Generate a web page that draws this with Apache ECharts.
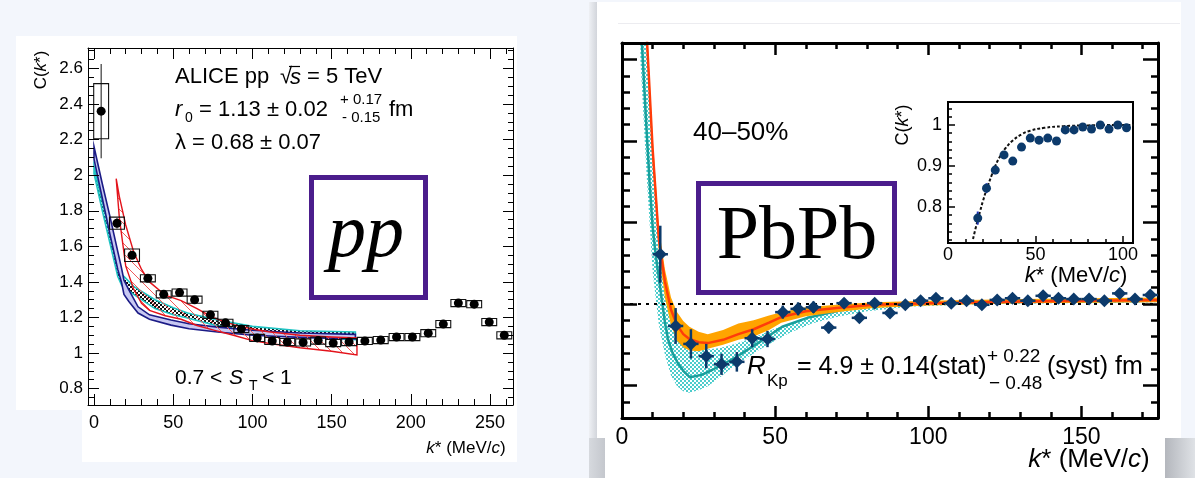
<!DOCTYPE html>
<html><head><meta charset="utf-8">
<script src="https://cdn.jsdelivr.net/npm/echarts@6/dist/echarts.min.js"></script>
<style>html,body{margin:0;padding:0;background:#f3f6fc}#c{width:1195px;height:478px}</style>
</head><body><div id="c"></div>
<script>
// ---------------- pp panel data ----------------
const ppK   = [4.5, 14.5, 24, 34, 44, 54, 63.5, 73.5, 83, 93, 103, 112.5, 122, 132, 141.5, 151, 161, 171, 181, 191, 201, 211, 220.5, 230, 240, 249.5, 259];
const ppC   = [2.36, 1.73, 1.55, 1.42, 1.33, 1.34, 1.30, 1.215, 1.17, 1.135, 1.085, 1.068, 1.062, 1.06, 1.07, 1.056, 1.062, 1.068, 1.073, 1.09, 1.09, 1.112, 1.163, 1.281, 1.275, 1.174, 1.10];
const ppSys = [0.155, 0.034, 0.035, 0.02, 0.02, 0.02, 0.02, 0.02, 0.02, 0.02, 0.02, 0.02, 0.02, 0.02, 0.02, 0.02, 0.02, 0.02, 0.02, 0.02, 0.02, 0.02, 0.02, 0.02, 0.02, 0.02, 0.02];
const ppStat= [0.265, 0.03, 0.02, 0.01, 0.01, 0.01, 0.01, 0.01, 0.01, 0.01, 0.01, 0.01, 0.01, 0.01, 0.01, 0.01, 0.01, 0.01, 0.01, 0.01, 0.01, 0.01, 0.01, 0.01, 0.01, 0.01, 0.01];

const ppNavyK  = [0, 5, 10, 15, 17.3, 18.9, 22, 27.8, 35, 48.6, 60, 78, 100, 130, 165];
const ppNavyHi = [2.16, 1.96, 1.77, 1.57, 1.48, 1.41, 1.355, 1.26, 1.215, 1.186, 1.165, 1.146, 1.128, 1.113, 1.105];
const ppNavyLo = [2.09, 1.88, 1.67, 1.47, 1.40, 1.33, 1.29, 1.225, 1.19, 1.157, 1.137, 1.118, 1.10, 1.088, 1.08];

const ppCyanK  = [0, 5, 10, 15, 17.5, 19, 25, 38.5, 50, 59, 78, 100, 130, 165];
const ppCyanHi = [2.05, 1.86, 1.67, 1.48, 1.44, 1.43, 1.375, 1.30, 1.255, 1.225, 1.186, 1.15, 1.125, 1.118];
const ppCyanLo = [2.01, 1.81, 1.62, 1.43, 1.38, 1.37, 1.33, 1.25, 1.215, 1.197, 1.153, 1.12, 1.09, 1.075];

const ppRedK  = [14, 16, 20, 25, 30, 35, 45, 55, 65, 75, 88, 100, 110, 130, 150, 166];
const ppRedHi = [1.98, 1.88, 1.72, 1.57, 1.47, 1.40, 1.325, 1.295, 1.25, 1.20, 1.16, 1.135, 1.12, 1.10, 1.09, 1.085];
const ppRedLo = [1.98, 1.76, 1.49, 1.36, 1.28, 1.24, 1.21, 1.19, 1.155, 1.13, 1.10, 1.07, 1.055, 1.03, 1.01, 0.99];

const ppXLabels = [0, 50, 100, 150, 200, 250];
const ppYLabels = [0.8, 1, 1.2, 1.4, 1.6, 1.8, 2, 2.2, 2.4, 2.6];

// ---------------- PbPb panel data ----------------
const pbK   = [12.5, 17.5, 22.5, 27.5, 32.5, 37.5, 42.5, 47.5, 52.5, 57.5, 62.5, 67.5, 72.5, 77.5, 82.5, 87.5, 92.5, 97.5, 102.5, 107.5, 112.5, 117.5, 122.5, 127.5, 132.5, 137.5, 142.5, 147.5, 152.5, 157.5, 162.5, 167.5, 172.5];
const pbC   = [1.061, 0.973, 0.951, 0.936, 0.926, 0.929, 0.958, 0.957, 0.990, 0.994, 0.996, 0.971, 1.001, 0.983, 1.001, 0.989, 0.999, 1.004, 1.007, 1.001, 1.004, 0.999, 1.005, 1.007, 1.004, 1.010, 1.007, 1.006, 1.006, 1.004, 1.013, 1.006, 1.011];
const pbErr = [0.035, 0.022, 0.018, 0.015, 0.013, 0.012, 0.011, 0.010, 0.008, 0.008, 0.007, 0.007, 0.006, 0.006, 0.005, 0.005, 0.005, 0.005, 0.005, 0.004, 0.004, 0.004, 0.004, 0.004, 0.004, 0.004, 0.004, 0.004, 0.004, 0.004, 0.004, 0.004, 0.004];

const pbOrK  = [8, 10, 12, 14, 16, 18, 20, 22, 25, 28, 33, 38, 43, 48, 52, 60, 70, 82, 100, 130, 175];
const pbRed  = [1.335, 1.19, 1.08, 1.028, 0.993, 0.974, 0.963, 0.957, 0.953, 0.952, 0.956, 0.963, 0.969, 0.977, 0.984, 0.991, 0.995, 0.999, 1.001, 1.003, 1.005];
const pbOrHi = [1.35, 1.205, 1.095, 1.043, 1.008, 0.99, 0.979, 0.972, 0.966, 0.963, 0.968, 0.976, 0.980, 0.986, 0.990, 0.996, 0.999, 1.002, 1.004, 1.006, 1.008];
const pbOrLo = [1.32, 1.175, 1.065, 1.008, 0.974, 0.955, 0.947, 0.943, 0.942, 0.945, 0.950, 0.956, 0.960, 0.968, 0.977, 0.985, 0.990, 0.995, 0.998, 1.001, 1.002];

const pbTealK = [6.5, 8, 9, 10, 11, 12.4, 14, 15, 16.5, 18.3, 20, 22.2, 26, 29.4, 36.9, 44.4, 52.3, 60.5, 73.5, 87.6, 100, 120, 175];
const pbTeal  = [1.32, 1.215, 1.15, 1.095, 1.06, 1.022, 0.978, 0.957, 0.940, 0.927, 0.918, 0.910, 0.913, 0.919, 0.934, 0.952, 0.972, 0.983, 0.994, 0.999, 1.001, 1.002, 1.004];

const pbCyK  = [6, 8, 10, 12, 14, 16, 18, 20, 22, 25, 28, 32, 36, 40, 45, 50, 55, 62, 70, 80, 95, 120, 175];
const pbCyHi = [1.40, 1.32, 1.18, 1.07, 1.01, 0.975, 0.960, 0.952, 0.948, 0.945, 0.944, 0.946, 0.950, 0.955, 0.962, 0.970, 0.976, 0.984, 0.990, 0.995, 0.999, 1.002, 1.004];
const pbCyLo = [1.30, 1.16, 1.04, 0.975, 0.938, 0.912, 0.899, 0.893, 0.891, 0.894, 0.899, 0.910, 0.922, 0.932, 0.944, 0.955, 0.965, 0.976, 0.984, 0.991, 0.997, 1.0, 1.002];

const pbRefK = [0, 175];
const pbRefC = [1, 1];
const pbXLabels = [0, 50, 100, 150];

// ---------------- inset data ----------------
const inK   = [17, 22, 27, 32, 37, 42, 47, 52, 57, 62, 67, 72, 77, 82, 87, 92, 97, 102];
const inC   = [0.773, 0.846, 0.890, 0.927, 0.912, 0.946, 0.968, 0.963, 0.968, 0.961, 0.988, 0.988, 0.995, 0.990, 1.0, 0.990, 1.0, 0.993];
const inErr = [0.016, 0.012, 0.010, 0, 0, 0, 0, 0, 0, 0, 0, 0, 0, 0, 0, 0, 0, 0];
const inCurveK = [14.3, 16, 18.3, 20, 22.3, 25, 27, 30, 33, 37, 42, 47, 55, 66, 80, 95, 106];
const inCurveC = [0.722, 0.752, 0.789, 0.815, 0.846, 0.878, 0.900, 0.925, 0.944, 0.962, 0.977, 0.986, 0.993, 0.997, 0.999, 1.0, 1.0];
const inXLabels = [0, 50, 100];
const inYLabels = [0.8, 0.9, 1];

// ---------------- helpers ----------------
const FONT = "'Liberation Sans', Arial, Helvetica, sans-serif";
const SERIF = "'Liberation Serif', 'Times New Roman', serif";
function steps(a, b, d, skip) {
  const r = [];
  for (let i = 0; a + i * d <= b + 1e-9; i++) {
    const v = +(a + i * d).toFixed(4);
    if (!skip || !skip.some(s => Math.abs(s - v) < 1e-6)) r.push(v);
  }
  return r;
}
function pat(w, h, draw) {
  const c = document.createElement('canvas'); c.width = w; c.height = h;
  draw(c.getContext('2d')); return { image: c, repeat: 'repeat' };
}
const checkerBlack = pat(4, 4, g => { g.fillStyle = '#fff'; g.fillRect(0,0,4,4); g.fillStyle = '#111'; g.fillRect(0,0,2,2); g.fillRect(2,2,2,2); });
const checkerCyan  = pat(4, 4, g => { g.fillStyle = '#fff'; g.fillRect(0,0,4,4); g.fillStyle = '#4ccccc'; g.fillRect(0,0,2,2); g.fillRect(2,2,2,2); });
const hatchRed     = pat(10, 10, g => { g.strokeStyle = '#ef5a5a'; g.lineWidth = 1; g.beginPath(); g.moveTo(-1,-1); g.lineTo(11,11); g.stroke(); });

function axis(grid, pos, min, max, ticks, len, width, o) {
  o = o || {};
  return {
    type: 'value', gridIndex: grid, position: pos, min: min, max: max, z: 6,
    axisLine: { show: !!o.line, onZero: false, lineStyle: { color: '#000', width: o.line || 1 } },
    axisTick: { show: true, inside: true, length: len, customValues: ticks, lineStyle: { color: '#000', width: width } },
    axisLabel: o.labels ? { show: true, customValues: o.labels, fontSize: o.fs, fontFamily: FONT, color: '#000', margin: o.margin,
                            formatter: v => String(+(+v).toFixed(2)) } : { show: false },
    splitLine: { show: false }, minorTick: { show: false }, minorSplitLine: { show: false }
  };
}
function band(xi, yi, K, LO, HI, o) {
  return {
    type: 'custom', xAxisIndex: xi, yAxisIndex: yi, z: o.z, silent: true, data: [[K[0], LO[0]]],
    renderItem: function (params, api) {
      const up = K.map((k, i) => api.coord([k, HI[i]]));
      const lo = K.map((k, i) => api.coord([k, LO[i]]));
      const cs = params.coordSys;
      return {
        type: 'group',
        clipPath: { type: 'rect', shape: { x: cs.x, y: cs.y, width: cs.width, height: cs.height } },
        children: [{ type: 'polygon', shape: { points: up.concat(lo.slice().reverse()) },
                     style: { fill: o.fill, stroke: o.stroke || null, lineWidth: o.lw || 1 } }]
      };
    }
  };
}

// axis ranges (from the picture's frame)
const ppX = [-3.8, 264.5], ppY = [0.708, 2.715];
const pbX = [0, 175], pbY = [0.8601, 1.3202];
const inX = [0, 105.7], inY = [0.7122, 1.056];

const ppXMinor = steps(10, 260, 10, ppXLabels);
const ppYMinor = steps(0.75, 2.7, 0.05, ppYLabels);
const pbYMajor = [0.9, 1.0, 1.1, 1.2, 1.3];
const pbXMinor = steps(10, 170, 10, pbXLabels);
const pbYMinor = steps(0.88, 1.32, 0.02, pbYMajor);
const inXMinor = steps(10, 100, 10, inXLabels);
const inYMinor = steps(0.72, 1.04, 0.02, inYLabels);

const xAxis = [
  axis(0, 'bottom', ppX[0], ppX[1], ppXLabels, 11, 1, { line: 1, labels: ppXLabels, fs: 18, margin: 9 }),
  axis(0, 'bottom', ppX[0], ppX[1], ppXMinor, 6, 1),
  axis(0, 'top', ppX[0], ppX[1], ppXLabels, 11, 1, { line: 1 }),
  axis(0, 'top', ppX[0], ppX[1], ppXMinor, 6, 1),
  axis(1, 'bottom', pbX[0], pbX[1], pbXLabels, 12, 2.5, { line: 3, labels: pbXLabels, fs: 23, margin: 8 }),
  axis(1, 'bottom', pbX[0], pbX[1], pbXMinor, 6, 2.5),
  axis(1, 'top', pbX[0], pbX[1], pbXLabels, 12, 2.5, { line: 3 }),
  axis(1, 'top', pbX[0], pbX[1], pbXMinor, 6, 2.5),
  axis(2, 'bottom', inX[0], inX[1], inXLabels, 7, 1.5, { line: 2, labels: inXLabels, fs: 18, margin: 3 }),
  axis(2, 'bottom', inX[0], inX[1], inXMinor, 4, 1.5)
];
const yAxis = [
  axis(0, 'left', ppY[0], ppY[1], ppYLabels, 11, 1, { line: 1, labels: ppYLabels, fs: 17, margin: 5 }),
  axis(0, 'left', ppY[0], ppY[1], ppYMinor, 6, 1),
  axis(0, 'right', ppY[0], ppY[1], ppYLabels, 10, 1, { line: 1 }),
  axis(0, 'right', ppY[0], ppY[1], ppYMinor, 5, 1),
  axis(1, 'left', pbY[0], pbY[1], pbYMajor, 15, 2.5, { line: 3 }),
  axis(1, 'left', pbY[0], pbY[1], pbYMinor, 8, 2.5),
  axis(1, 'right', pbY[0], pbY[1], pbYMajor, 15, 2.5, { line: 3 }),
  axis(1, 'right', pbY[0], pbY[1], pbYMinor, 7, 2.5),
  axis(2, 'left', inY[0], inY[1], inYLabels, 7, 1.5, { line: 2, labels: inYLabels, fs: 18, margin: 6 }),
  axis(2, 'left', inY[0], inY[1], inYMinor, 4, 1.5)
];

const NAVY = '#0c3a6b';
const series = [
  // ---- pp ----
  band(0, 0, ppCyanK, ppCyanLo, ppCyanHi, { fill: checkerBlack, stroke: '#1fc4c4', lw: 1.6, z: 2 }),
  band(0, 0, ppNavyK, ppNavyLo, ppNavyHi, { fill: '#c8c8f2', stroke: '#1b1b86', lw: 1.6, z: 3 }),
  band(0, 0, ppRedK, ppRedLo, ppRedHi, { fill: hatchRed, stroke: '#e3131b', lw: 1.4, z: 4 }),
  {
    type: 'custom', xAxisIndex: 0, yAxisIndex: 0, z: 5, silent: true,
    data: ppK.map((k, i) => [k, ppC[i], ppSys[i], ppStat[i]]),
    renderItem: function (params, api) {
      const k = api.value(0), c = api.value(1), s = api.value(2), st = api.value(3);
      const a = api.coord([k - 4.7, c + s]), b = api.coord([k + 4.7, c - s]);
      const t = api.coord([k, c + st]), u = api.coord([k, c - st]);
      return { type: 'group', children: [
        { type: 'rect', shape: { x: a[0], y: a[1], width: b[0] - a[0], height: b[1] - a[1] }, style: { fill: null, stroke: '#111', lineWidth: 1.1 } },
        { type: 'line', shape: { x1: t[0], y1: t[1], x2: u[0], y2: u[1] }, style: { stroke: '#111', lineWidth: 1 } }
      ] };
    }
  },
  { type: 'scatter', xAxisIndex: 0, yAxisIndex: 0, z: 6, symbol: 'circle', symbolSize: 9,
    itemStyle: { color: '#000', opacity: 1 }, data: ppK.map((k, i) => [k, ppC[i]]) },

  // ---- PbPb ----
  band(4, 4, pbCyK, pbCyLo, pbCyHi, { fill: checkerCyan, z: 2 }),
  { type: 'line', xAxisIndex: 4, yAxisIndex: 4, z: 3, showSymbol: false, symbol: 'none',
    lineStyle: { color: '#1a9f9c', width: 2.5 }, data: pbTealK.map((k, i) => [k, pbTeal[i]]) },
  band(4, 4, pbOrK, pbOrLo, pbOrHi, { fill: '#ffa400', z: 4 }),
  { type: 'line', xAxisIndex: 4, yAxisIndex: 4, z: 5, showSymbol: false, symbol: 'none',
    lineStyle: { color: '#ff3c0a', width: 2.5 }, data: pbOrK.map((k, i) => [k, pbRed[i]]) },
  { type: 'line', xAxisIndex: 4, yAxisIndex: 4, z: 6, showSymbol: false, symbol: 'none',
    lineStyle: { color: '#000', width: 2, type: [3, 5] }, data: pbRefK.map((k, i) => [k, pbRefC[i]]) },
  {
    type: 'custom', xAxisIndex: 4, yAxisIndex: 4, z: 7, silent: true,
    data: pbK.map((k, i) => [k, pbC[i], pbErr[i]]),
    renderItem: function (params, api) {
      const k = api.value(0), c = api.value(1), e = api.value(2);
      const t = api.coord([k, c + e]), u = api.coord([k, c - e]);
      const l = api.coord([k - 2.5, c]), r = api.coord([k + 2.5, c]);
      return { type: 'group', children: [
        { type: 'line', shape: { x1: t[0], y1: t[1], x2: u[0], y2: u[1] }, style: { stroke: NAVY, lineWidth: 2.5 } },
        { type: 'line', shape: { x1: l[0], y1: l[1], x2: r[0], y2: r[1] }, style: { stroke: NAVY, lineWidth: 2.5 } }
      ] };
    }
  },
  { type: 'scatter', xAxisIndex: 4, yAxisIndex: 4, z: 8, symbol: 'diamond', symbolSize: 13,
    itemStyle: { color: NAVY, opacity: 1 }, data: pbK.map((k, i) => [k, pbC[i]]) },

  // ---- inset ----
  { type: 'line', xAxisIndex: 8, yAxisIndex: 8, z: 3, showSymbol: false, symbol: 'none', smooth: true,
    lineStyle: { color: '#111', width: 2, type: [3, 2] }, data: inCurveK.map((k, i) => [k, inCurveC[i]]) },
  {
    type: 'custom', xAxisIndex: 8, yAxisIndex: 8, z: 4, silent: true,
    data: inK.map((k, i) => [k, inC[i], inErr[i]]),
    renderItem: function (params, api) {
      const k = api.value(0), c = api.value(1), e = api.value(2);
      const t = api.coord([k, c + e]), u = api.coord([k, c - e]);
      return { type: 'line', shape: { x1: t[0], y1: t[1], x2: u[0], y2: u[1] }, style: { stroke: '#1c2fb8', lineWidth: 2 } };
    }
  },
  { type: 'scatter', xAxisIndex: 8, yAxisIndex: 8, z: 5, symbol: 'circle', symbolSize: 9,
    itemStyle: { color: NAVY, opacity: 1 }, data: inK.map((k, i) => [k, inC[i]]) }
];

// ---------------- text & decoration ----------------
function txt(x, y, text, fs, o) {
  o = o || {};
  return { type: 'text', x: x, y: y, z: 100, rotation: o.rot || 0, silent: true,
    style: { text: text, fill: '#000', fontSize: fs, fontFamily: o.ff || FONT, fontStyle: o.it ? 'italic' : 'normal',
             textAlign: o.align || 'left', textVerticalAlign: 'middle', rich: o.rich } };
}
function richKs(fs) {
  return { i: { fontStyle: 'italic', fontSize: fs, fontFamily: FONT, fill: '#000', color: '#000' },
           n: { fontSize: fs, fontFamily: FONT, fill: '#000', color: '#000' } };
}
const bg = (x, y, w, h, fill) => ({ type: 'rect', z: -100, silent: true, shape: { x: x, y: y, width: w, height: h }, style: { fill: fill } });
const lin = (c0, c1) => ({ type: 'linear', x: 0, y: 0, x2: 1, y2: 0, colorStops: [{ offset: 0, color: c0 }, { offset: 1, color: c1 }] });

const graphic = [
  // cards
  bg(16, 36, 501, 374, '#ffffff'),
  bg(82, 36, 435, 426, '#ffffff'),
  bg(589, 2, 8, 436, lin('#eef0f4', '#d2d5db')),
  bg(597, 2, 584, 436, '#ffffff'),
  bg(605, 438, 560, 40, '#ffffff'),
  bg(589, 438, 16, 40, lin('#d6d9de', '#c4c7cd')),
  bg(1165, 438, 30, 40, lin('#b4b7bd', '#dfe2e6')),
  { type: 'line', z: -90, silent: true, shape: { x1: 618, y1: 23.5, x2: 1180, y2: 23.5 }, style: { stroke: '#ececf0', lineWidth: 1 } },

  // purple boxes
  { type: 'rect', z: 50, silent: true, shape: { x: 311.5, y: 177.5, width: 114, height: 120 }, style: { fill: '#fff', stroke: '#4b1d8c', lineWidth: 5 } },
  { type: 'rect', z: 50, silent: true, shape: { x: 698.5, y: 183.5, width: 196, height: 109 }, style: { fill: '#fff', stroke: '#4b1d8c', lineWidth: 5 } },
  txt(366, 236, 'pp', 76, { ff: SERIF, it: true, align: 'center' }),
  txt(797, 238, 'PbPb', 76, { ff: SERIF, align: 'center' }),

  // pp annotations
  txt(175, 77, 'ALICE pp', 22),
  txt(280, 77, '\u221A', 22),
  { type: 'line', z: 100, silent: true, shape: { x1: 289, y1: 66.5, x2: 300, y2: 66.5 }, style: { stroke: '#000', lineWidth: 1.2 } },
  txt(290, 78, 's', 22, { it: true }),
  txt(307, 77, '= 5 TeV', 22),
  txt(175, 110, 'r', 22, { it: true }),
  txt(185, 118, '0', 14),
  txt(199, 110, '= 1.13 \u00B1 0.02', 22),
  txt(340, 100, '+ 0.17', 15),
  txt(342, 118, '- 0.15', 15),
  txt(389, 110, 'fm', 22),
  txt(175, 143, '\u03BB = 0.68 \u00B1 0.07', 22),
  txt(175, 378, '0.7 <', 21),
  txt(229, 378, 'S', 21, { it: true }),
  txt(249, 386, 'T', 14),
  txt(262, 378, '< 1', 21),
  txt(41, 70, '{n|C(}{i|k}{n|*)}', 17, { rot: Math.PI / 2, align: 'center', rich: richKs(17) }),
  txt(466, 448, '{i|k}{n|* (MeV/}{i|c}{n|)}', 17, { align: 'center', rich: richKs(17) }),

  // PbPb annotations
  txt(693, 133, '40\u201350%', 26),
  txt(747, 367, 'R', 26, { it: true }),
  txt(767, 381, 'Kp', 17),
  txt(797, 367, '= 4.9 \u00B1 0.14(stat)', 25),
  txt(987, 357, '+ 0.22', 19),
  txt(989, 384, '\u2212 0.48', 19),
  txt(1047, 367, '(syst) fm', 25),
  txt(1089, 460, '{i|k}{n|* (MeV/}{i|c}{n|)}', 26, { align: 'center', rich: richKs(26) }),

  // inset titles
  txt(903, 125, '{n|C(}{i|k}{n|*)}', 18, { rot: Math.PI / 2, align: 'center', rich: richKs(18) }),
  txt(1076, 276, '{i|k}{n|* (MeV/}{i|c}{n|)}', 22, { align: 'center', rich: richKs(22) })
];

const chart = echarts.init(document.getElementById('c'), null, { renderer: 'canvas', width: 1195, height: 478 });
chart.setOption({
  animation: false,
  backgroundColor: '#f3f6fc',
  grid: [
    { left: 88, top: 48, width: 425, height: 357, containLabel: false },
    { left: 622, top: 43, width: 536, height: 375, containLabel: false },
    { left: 948, top: 102, width: 185, height: 141, containLabel: false, show: true, backgroundColor: '#fff', borderColor: '#000', borderWidth: 2, z: 1 }
  ],
  xAxis: xAxis,
  yAxis: yAxis,
  series: series,
  graphic: { elements: graphic }
});
</script></body></html>
